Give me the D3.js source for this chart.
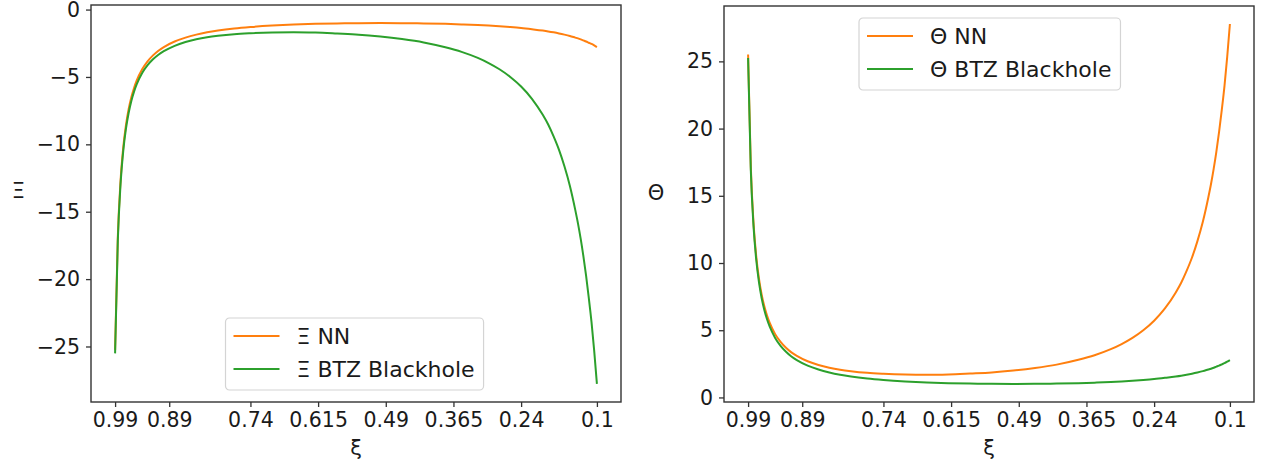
<!DOCTYPE html>
<html>
<head>
<meta charset="utf-8">
<script src="https://cdn.jsdelivr.net/npm/d3@7"></script>
<style>
    body { margin: 0; background: #fff; }
    svg { display: block; font-family: "DejaVu Sans", sans-serif; }
    .tick text { font-size: 20.5px; fill: #1a1a1a; }
    .tick line { stroke: #333; stroke-width: 1.3; }
    .frame { fill: none; stroke: #333; stroke-width: 1.4; }
    .axis-label { font-size: 21px; fill: #1a1a1a; }
    .legend-text { font-size: 22px; fill: #1a1a1a; }
</style>
</head>
<body>
<svg id="chart" width="1265" height="466"></svg>
<script>
// sample positions along ξ (axis runs from 0.99 down to 0.1)
const xiValues = [0.99, 0.985, 0.98, 0.975, 0.97, 0.965, 0.96, 0.955, 0.95, 0.94,
    0.93, 0.92, 0.91, 0.9, 0.88, 0.86, 0.84, 0.82, 0.8, 0.77,
    0.74, 0.7, 0.66, 0.62, 0.58, 0.54, 0.5, 0.46, 0.42, 0.38,
    0.35, 0.32, 0.3, 0.28, 0.26, 0.24, 0.22, 0.2, 0.19, 0.18,
    0.17, 0.16, 0.15, 0.14, 0.135, 0.13, 0.125, 0.12, 0.115, 0.11,
    0.105, 0.1];

// left panel: Ξ
const xiNN = [-25.25, -16.92, -12.76, -10.26, -8.59, -7.40, -6.51, -5.82, -5.26, -4.43,
    -3.84, -3.40, -3.05, -2.78, -2.37, -2.08, -1.86, -1.69, -1.56, -1.41,
    -1.30, -1.19, -1.11, -1.06, -1.03, -1.01, -1.00, -1.01, -1.03, -1.06,
    -1.10, -1.15, -1.19, -1.24, -1.30, -1.37, -1.46, -1.56, -1.62, -1.69,
    -1.77, -1.86, -1.96, -2.08, -2.14, -2.21, -2.29, -2.37, -2.46, -2.55,
    -2.66, -2.78];
const xiBTZ = [-25.51, -17.18, -13.02, -10.52, -8.86, -7.67, -6.78, -6.09, -5.54, -4.71,
    -4.13, -3.69, -3.35, -3.09, -2.69, -2.41, -2.21, -2.06, -1.95, -1.83,
    -1.76, -1.70, -1.68, -1.71, -1.78, -1.86, -2.00, -2.19, -2.44, -2.80,
    -3.14, -3.59, -3.97, -4.43, -5.00, -5.71, -6.62, -7.81, -8.53, -9.41,
    -10.41, -11.63, -13.07, -14.86, -15.86, -17.00, -18.29, -19.75, -21.39, -23.18,
    -25.33, -27.78];

// right panel: Θ
const thetaNN = [25.51, 17.18, 13.02, 10.52, 8.86, 7.67, 6.78, 6.09, 5.54, 4.71,
    4.13, 3.69, 3.35, 3.09, 2.69, 2.41, 2.21, 2.06, 1.95, 1.83,
    1.76, 1.70, 1.68, 1.71, 1.78, 1.86, 2.00, 2.19, 2.44, 2.80,
    3.14, 3.59, 3.97, 4.43, 5.00, 5.71, 6.62, 7.81, 8.53, 9.41,
    10.41, 11.63, 13.07, 14.86, 15.86, 17.00, 18.29, 19.75, 21.39, 23.18,
    25.33, 27.78];
const thetaBTZ = [25.25, 16.92, 12.76, 10.26, 8.59, 7.40, 6.51, 5.82, 5.26, 4.43,
    3.84, 3.40, 3.05, 2.78, 2.37, 2.08, 1.86, 1.69, 1.56, 1.41,
    1.30, 1.19, 1.11, 1.06, 1.03, 1.01, 1.00, 1.01, 1.03, 1.06,
    1.10, 1.15, 1.19, 1.24, 1.30, 1.37, 1.46, 1.56, 1.62, 1.69,
    1.77, 1.86, 1.96, 2.08, 2.14, 2.21, 2.29, 2.37, 2.46, 2.55,
    2.66, 2.78];

const xTickValues = [0.99, 0.89, 0.74, 0.615, 0.49, 0.365, 0.24, 0.1];
const xTickLabels = ['0.99', '0.89', '0.74', '0.615', '0.49', '0.365', '0.24', '0.1'];
const leftYTicks = [0, -5, -10, -15, -20, -25];
const rightYTicks = [0, 5, 10, 15, 20, 25];

const ORANGE = '#ff7f0e';
const GREEN = '#2ca02c';

const svg = d3.select('#chart');

// pad a domain by 5% on each side, like matplotlib's default margins
function padded(values) {
    const [lo, hi] = d3.extent(values);
    const m = (hi - lo) * 0.05;
    return [lo - m, hi + m];
}

function drawPanel(opts) {
    const { left, top, width, height } = opts;
    const g = svg.append('g').attr('transform', `translate(${left},${top})`);

    const x = d3.scaleLinear()
        .domain(padded(xiValues).reverse())
        .range([0, width]);
    const allY = opts.series.flatMap(s => s.values);
    const y = d3.scaleLinear()
        .domain(padded(allY))
        .range([height, 0]);

    // lines
    opts.series.forEach(s => {
        const line = d3.line()
            .x((d, i) => x(xiValues[i]))
            .y(d => y(d))
            .curve(d3.curveMonotoneX);
        g.append('path')
            .datum(s.values)
            .attr('fill', 'none')
            .attr('stroke', s.color)
            .attr('stroke-width', 2)
            .attr('stroke-linejoin', 'round')
            .attr('d', line);
    });

    // axes
    const xAxis = g.append('g')
        .attr('transform', `translate(0,${height})`)
        .call(d3.axisBottom(x)
            .tickValues(xTickValues)
            .tickFormat((d, i) => xTickLabels[i])
            .tickSize(5)
            .tickPadding(5));
    xAxis.select('.domain').remove();

    const yAxis = g.append('g')
        .call(d3.axisLeft(y)
            .tickValues(opts.yTicks)
            .tickFormat(d3.format('d'))
            .tickSize(5)
            .tickPadding(6));
    yAxis.select('.domain').remove();

    // let the stylesheet decide the font, not d3's defaults
    [xAxis, yAxis].forEach(a => a.attr('font-family', null).attr('font-size', null));

    g.append('rect')
        .attr('class', 'frame')
        .attr('width', width)
        .attr('height', height);

    // axis labels
    g.append('text')
        .attr('class', 'axis-label')
        .attr('x', width / 2)
        .attr('y', 455 - top)
        .attr('text-anchor', 'middle')
        .text('ξ');
    g.append('text')
        .attr('class', 'axis-label')
        .attr('x', opts.yLabelX)
        .attr('y', opts.yLabelY - top)
        .attr('text-anchor', 'middle')
        .attr('dominant-baseline', 'central')
        .text(opts.yLabel);

    // legend
    const lg = g.append('g')
        .attr('transform', `translate(${opts.legendX - left},${opts.legendY - top})`);
    const box = lg.append('rect')
        .attr('rx', 4)
        .attr('fill', '#fff')
        .attr('fill-opacity', 0.8)
        .attr('stroke', '#d4d4d4')
        .attr('stroke-width', 1.2);
    let maxW = 0;
    opts.series.forEach((s, i) => {
        const cy = 18 + i * 33;
        lg.append('line')
            .attr('x1', 8).attr('x2', 54)
            .attr('y1', cy).attr('y2', cy)
            .attr('stroke', s.color)
            .attr('stroke-width', 2);
        const t = lg.append('text')
            .attr('class', 'legend-text')
            .attr('x', 71)
            .attr('y', cy)
            .attr('dy', '0.36em')
            .text(s.label);
        maxW = Math.max(maxW, t.node().getComputedTextLength());
    });
    box.attr('width', 71 + maxW + 9).attr('height', 72);
}

drawPanel({
    left: 91, top: 5, width: 530, height: 397,
    yTicks: leftYTicks,
    yLabel: 'Ξ', yLabelX: -72.6, yLabelY: 191,
    legendX: 225.5, legendY: 318,
    series: [
        { label: 'Ξ NN', values: xiNN, color: ORANGE },
        { label: 'Ξ BTZ Blackhole', values: xiBTZ, color: GREEN }
    ]
});

drawPanel({
    left: 724, top: 6, width: 530, height: 396,
    yTicks: rightYTicks,
    yLabel: 'Θ', yLabelX: -68, yLabelY: 193,
    legendX: 859, legendY: 18,
    series: [
        { label: 'Θ NN', values: thetaNN, color: ORANGE },
        { label: 'Θ BTZ Blackhole', values: thetaBTZ, color: GREEN }
    ]
});
</script>
</body>
</html>
